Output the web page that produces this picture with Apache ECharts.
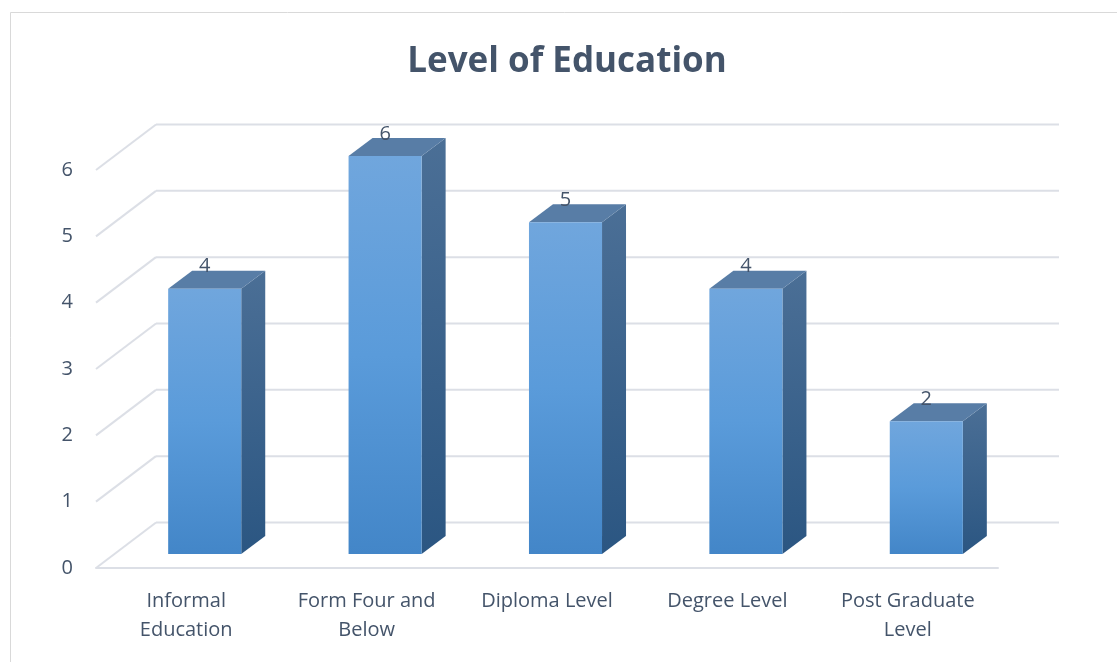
<!DOCTYPE html>
<html>
<head>
<meta charset="utf-8">
<script src="https://cdn.jsdelivr.net/npm/echarts@6/dist/echarts.min.js"></script>
<style>html,body{margin:0;padding:0;background:#fff}#c{width:1117px;height:662px}</style>
</head>
<body>
<div id="c"></div>
<script>
const categories = ['Informal\nEducation', 'Form Four and\nBelow', 'Diploma Level', 'Degree Level', 'Post Graduate\nLevel'];
const values = [4, 6, 5, 4, 2];
const yTicks = [0, 1, 2, 3, 4, 5, 6];
const titleText = 'Level of Education';

const FONT = '"Open Sans", Lato, sans-serif';
const TXT = '#44546A';
const GRID = '#dcdfe6';
const WALL = { x: 60, y: -45.5 };   // front plane -> back wall
const BAR_OFF = { x: 18.5, y: -14 }; // bar front face depth offset
const BAR_D = { x: 24, y: -18 };     // bar depth

const chart = echarts.init(document.getElementById('c'));
chart.setOption({
  animation: false,
  backgroundColor: '#fff',
  title: {
    text: titleText, left: 562, top: 40, textAlign: 'center',
    textStyle: { fontFamily: FONT, fontSize: 35, fontWeight: 'bold', color: TXT }
  },
  graphic: [{
    type: 'rect', silent: true, z: -10,
    shape: { x: 10.5, y: 12.5, width: 1200, height: 700 },
    style: { fill: 'none', stroke: '#d9d9d9', lineWidth: 1 }
  }],
  grid: { left: 96, right: 119, top: 170, bottom: 94 },
  xAxis: {
    type: 'category', data: categories,
    axisLine: { show: true, lineStyle: { color: GRID, width: 2 } },
    axisTick: { show: false },
    axisLabel: { fontFamily: FONT, fontSize: 20, color: TXT, lineHeight: 29, margin: 19, interval: 0 }
  },
  yAxis: {
    type: 'value', min: yTicks[0], max: yTicks[yTicks.length - 1], interval: 1,
    axisLine: { show: false }, axisTick: { show: false }, splitLine: { show: false },
    axisLabel: { fontFamily: FONT, fontSize: 20, color: TXT, margin: 23, padding: [4, 0, 0, 0] }
  },
  series: [{
    type: 'custom', z: 1, silent: true,
    data: yTicks.map(t => [0, t]),
    renderItem: function (params, api) {
      const cs = params.coordSys;
      const p = api.coord([0, api.value(1)]);
      const x0 = cs.x, y = p[1];
      const style = { stroke: GRID, lineWidth: 2, fill: 'none' };
      return {
        type: 'group', children: [
          { type: 'line', shape: { x1: x0, y1: y, x2: x0 + WALL.x, y2: y + WALL.y }, style: style },
          { type: 'line', shape: { x1: x0 + WALL.x, y1: y + WALL.y, x2: x0 + cs.width + WALL.x + 1, y2: y + WALL.y }, style: style }
        ]
      };
    }
  }, {
    type: 'custom', z: 5, silent: true,
    data: values.map((v, i) => [i, v]),
    renderItem: function (params, api) {
      const i = api.value(0), v = api.value(1);
      const base = api.coord([i, 0]);
      const top = api.coord([i, v]);
      const bw = api.size([1, 0])[0] * 0.405;
      const x1 = base[0] + BAR_OFF.x - bw / 2, x2 = x1 + bw;
      const yb = base[1] + BAR_OFF.y, yt = top[1] + BAR_OFF.y;
      const frontFill = new echarts.graphic.LinearGradient(0, 0, 0, 1, [
        { offset: 0, color: '#70a6dd' }, { offset: 0.5, color: '#5a9bda' }, { offset: 1, color: '#4386c8' }
      ]);
      const sideFill = new echarts.graphic.LinearGradient(0, 0, 0, 1, [
        { offset: 0, color: '#4b6f96' }, { offset: 1, color: '#2b5682' }
      ]);
      return {
        type: 'group', children: [
          { type: 'polygon', shape: { points: [[x2, yt], [x2 + BAR_D.x, yt + BAR_D.y], [x2 + BAR_D.x, yb + BAR_D.y], [x2, yb]] },
            style: { fill: sideFill } },
          { type: 'polygon', shape: { points: [[x1, yt], [x2, yt], [x2 + BAR_D.x, yt + BAR_D.y], [x1 + BAR_D.x, yt + BAR_D.y]] },
            style: { fill: '#587da6' } },
          { type: 'rect', shape: { x: x1, y: yt, width: bw, height: yb - yt },
            style: { fill: frontFill } },
          { type: 'text', z2: 10, style: { text: String(v), x: (x1 + x2) / 2, y: yt + BAR_D.y + 6, align: 'center', verticalAlign: 'bottom',
            fontFamily: FONT, fontSize: 20, fill: TXT } }
        ]
      };
    }
  }]
});
</script>
</body>
</html>
